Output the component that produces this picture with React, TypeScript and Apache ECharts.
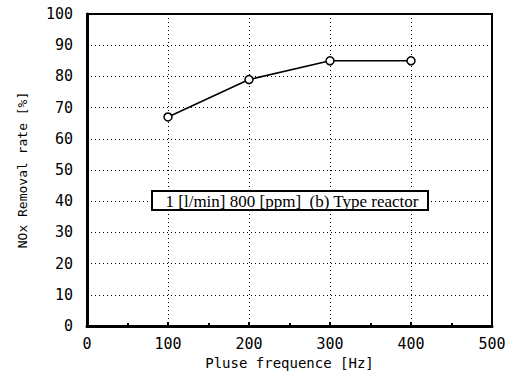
import React, { useEffect, useRef } from "react";
import * as echarts from "echarts";

const frequencies = [100, 200, 300, 400];
const removalRates = [67, 79, 85, 85];
const xTicks = [0, 100, 200, 300, 400, 500];
const yTicks = [0, 10, 20, 30, 40, 50, 60, 70, 80, 90, 100];
const legendText = "1 [l/min] 800 [ppm]  (b) Type reactor";
const xTitle = "Pluse frequence [Hz]";
const yTitle = "NOx Removal rate [%]";

export default function App() {
  const ref = useRef<HTMLDivElement>(null);
  useEffect(() => {
    if (!ref.current) return;
    const chart = echarts.init(ref.current, null, { renderer: "svg" });
    const mono = "DejaVu Sans Mono";
    chart.setOption({
      animation: false,
      backgroundColor: "#ffffff",
      grid: {
        left: 87,
        right: 24,
        top: 14,
        bottom: 53,
        show: true,
        borderColor: "#000",
        borderWidth: 2,
        backgroundColor: "transparent",
      },
      xAxis: {
        type: "value",
        min: xTicks[0],
        max: xTicks[xTicks.length - 1],
        interval: 100,
        name: xTitle,
        nameLocation: "middle",
        nameGap: 30,
        nameTextStyle: { fontFamily: mono, fontSize: 14, color: "#000" },
        axisLine: { show: true, onZero: false, lineStyle: { color: "#000", width: 3 } },
        axisTick: { show: true, inside: true, length: 4, lineStyle: { color: "#000", width: 2 } },
        minorTick: { show: true, splitNumber: 2, length: 3, lineStyle: { color: "#000", width: 2 } },
        axisLabel: { fontFamily: mono, fontSize: 15, color: "#000", margin: 10 },
        splitLine: { show: true, lineStyle: { color: "#000", type: [1, 3], width: 1 } },
      },
      yAxis: {
        type: "value",
        min: yTicks[0],
        max: yTicks[yTicks.length - 1],
        interval: 10,
        name: yTitle,
        nameLocation: "middle",
        nameGap: 58,
        nameRotate: 90,
        nameTextStyle: { fontFamily: mono, fontSize: 13, color: "#000" },
        axisLine: { show: true, onZero: false, lineStyle: { color: "#000", width: 3 } },
        axisTick: { show: false },
        axisLabel: { fontFamily: mono, fontSize: 15, color: "#000", margin: 14 },
        splitLine: { show: true, lineStyle: { color: "#000", type: [1, 3], width: 1 } },
      },
      series: [
        {
          type: "line",
          data: frequencies.map((f, i) => [f, removalRates[i]]),
          symbol: "circle",
          symbolSize: 8,
          itemStyle: { color: "#fff", borderColor: "#000", borderWidth: 1.5 },
          lineStyle: { color: "#000", width: 1.5 },
          z: 5,
        },
      ],
      graphic: [
        {
          type: "rect",
          z: 100,
          zlevel: 1,
          shape: { x: 152, y: 191, width: 276, height: 19 },
          style: { fill: "#fff", stroke: "#000", lineWidth: 2 },
        },
        {
          type: "text",
          z: 101,
          zlevel: 1,
          x: 292,
          y: 201,
          style: {
            text: legendText,
            fill: "#000",
            font: "17px 'Liberation Serif'",
            textAlign: "center",
            textVerticalAlign: "middle",
          },
        },
      ],
    });
    return () => chart.dispose();
  }, []);
  return (
    <div
      ref={ref}
      style={{ position: "fixed", left: 0, top: 0, width: 516, height: 379, background: "#fff" }}
    />
  );
}
